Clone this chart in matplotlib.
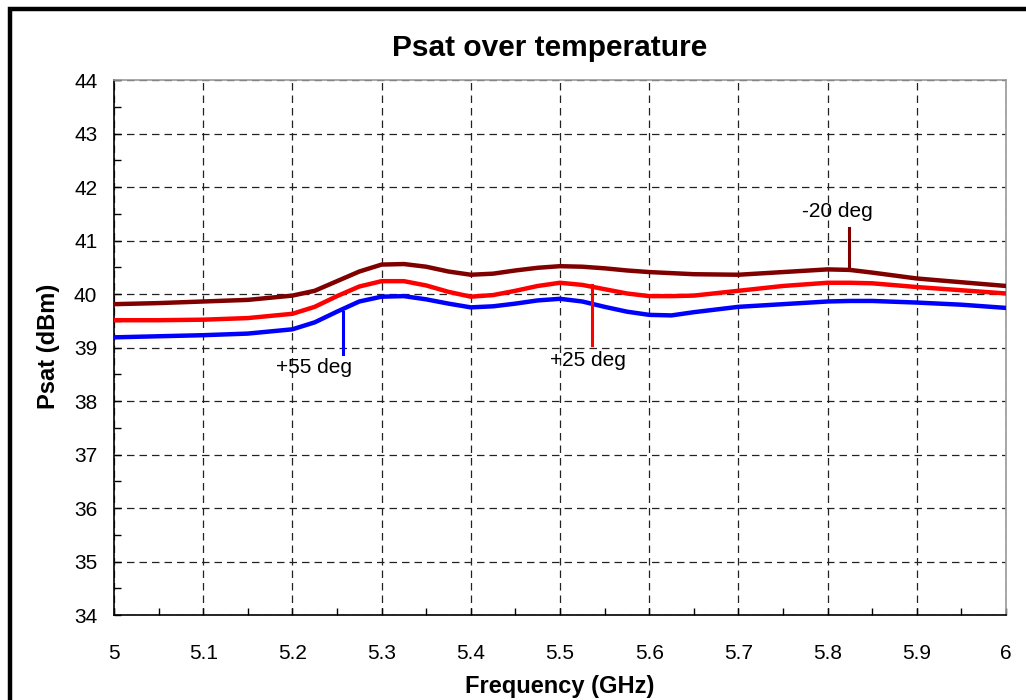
import matplotlib
matplotlib.use("Agg")
import matplotlib.pyplot as plt
from matplotlib.patches import Rectangle
from matplotlib.ticker import MultipleLocator, FuncFormatter

plt.rcParams['font.family'] = ['Liberation Sans', 'DejaVu Sans']

freq = [5.0, 5.05, 5.1, 5.15, 5.2, 5.225, 5.25, 5.275, 5.3, 5.325, 5.35, 5.375, 5.4,
        5.425, 5.45, 5.475, 5.5, 5.525, 5.55, 5.575, 5.6, 5.625, 5.65, 5.7, 5.75,
        5.8, 5.825, 5.85, 5.9, 5.95, 6.0]
psat_m20 = [39.81, 39.83, 39.86, 39.89, 39.97, 40.06, 40.24, 40.42, 40.55, 40.56, 40.51, 40.42, 40.36,
            40.38, 40.44, 40.49, 40.52, 40.51, 40.48, 40.44, 40.41, 40.39, 40.37, 40.36, 40.41,
            40.46, 40.45, 40.40, 40.29, 40.22, 40.15]
psat_p25 = [39.51, 39.51, 39.52, 39.55, 39.63, 39.76, 39.96, 40.14, 40.24, 40.24, 40.16, 40.04, 39.95,
            39.98, 40.06, 40.15, 40.21, 40.17, 40.09, 40.01, 39.96, 39.96, 39.97, 40.06, 40.15,
            40.21, 40.21, 40.20, 40.13, 40.07, 40.01]
psat_p55 = [39.19, 39.21, 39.23, 39.26, 39.34, 39.47, 39.67, 39.86, 39.95, 39.96, 39.90, 39.82, 39.75,
            39.77, 39.82, 39.88, 39.91, 39.86, 39.76, 39.67, 39.61, 39.60, 39.66, 39.76, 39.81,
            39.86, 39.87, 39.87, 39.84, 39.80, 39.74]

labels = ["-20 deg", "+25 deg", "+55 deg"]
colors = ["#800000", "#ff0000", "#0000ff"]
ann_x = [5.824, 5.536, 5.257]
ann_y0 = [40.45, 40.17, 39.66]
ann_y1 = [41.23, 39.05, 38.88]
ann_tx = [5.811, 5.531, 5.224]
ann_ty = [41.55, 38.76, 38.63]

fig = plt.figure(figsize=(10.26, 7.0), dpi=100)
ax = fig.add_axes([114/1026, 1-615/700, (1006-114)/1026, (615-80)/700])

for ys, c in zip([psat_m20, psat_p25, psat_p55], colors):
    ax.plot(freq, ys, color=c, lw=3.2, solid_capstyle='round', solid_joinstyle='round', zorder=3)

for x, y0, y1, tx, ty, c, lab in zip(ann_x, ann_y0, ann_y1, ann_tx, ann_ty, colors, labels):
    ax.plot([x, x], [y0, y1], color=c, lw=2.2, zorder=3)
    ax.text(tx, ty, lab, ha='center', va='center', fontsize=15, color='black', zorder=4)

ax.set_xlim(5, 6)
ax.set_ylim(34, 44)
ax.xaxis.set_major_locator(MultipleLocator(0.1))
ax.xaxis.set_minor_locator(MultipleLocator(0.05))
ax.yaxis.set_major_locator(MultipleLocator(1))
ax.yaxis.set_minor_locator(MultipleLocator(0.5))
ax.xaxis.set_major_formatter(FuncFormatter(lambda v, p: '%g' % round(v, 2)))
ax.tick_params(which='both', direction='in', length=5, width=1, color='black', labelsize=15)
ax.tick_params(axis='x', pad=21)
ax.tick_params(axis='y', pad=12)
ax.grid(True, which='major', color='#222222', linestyle=(0, (6, 4)), lw=0.9)
ax.set_axisbelow(True)
for s in ['top', 'right']:
    ax.spines[s].set_color('#999999')
    ax.spines[s].set_linewidth(1.2)
for s in ['left', 'bottom']:
    ax.spines[s].set_color('black')
    ax.spines[s].set_linewidth(1.2)

fig.text(550/1026, 1-48/700, "Psat over temperature", fontsize=21.5, fontweight='bold',
         ha='center', va='center')
fig.text(560/1026, 1-687/700, "Frequency (GHz)", fontsize=17, fontweight='bold',
         ha='center', va='center')
fig.text(49/1026, 1-346/700, "Psat (dBm)", fontsize=17, fontweight='bold',
         ha='center', va='center', rotation=90)

fig.patches.append(Rectangle((10/1026, -0.1), 1.2, 1 - 8.5/700 + 0.1, transform=fig.transFigure,
                             fill=False, edgecolor='black', lw=3.2))

fig.savefig("out.png", dpi=100)
